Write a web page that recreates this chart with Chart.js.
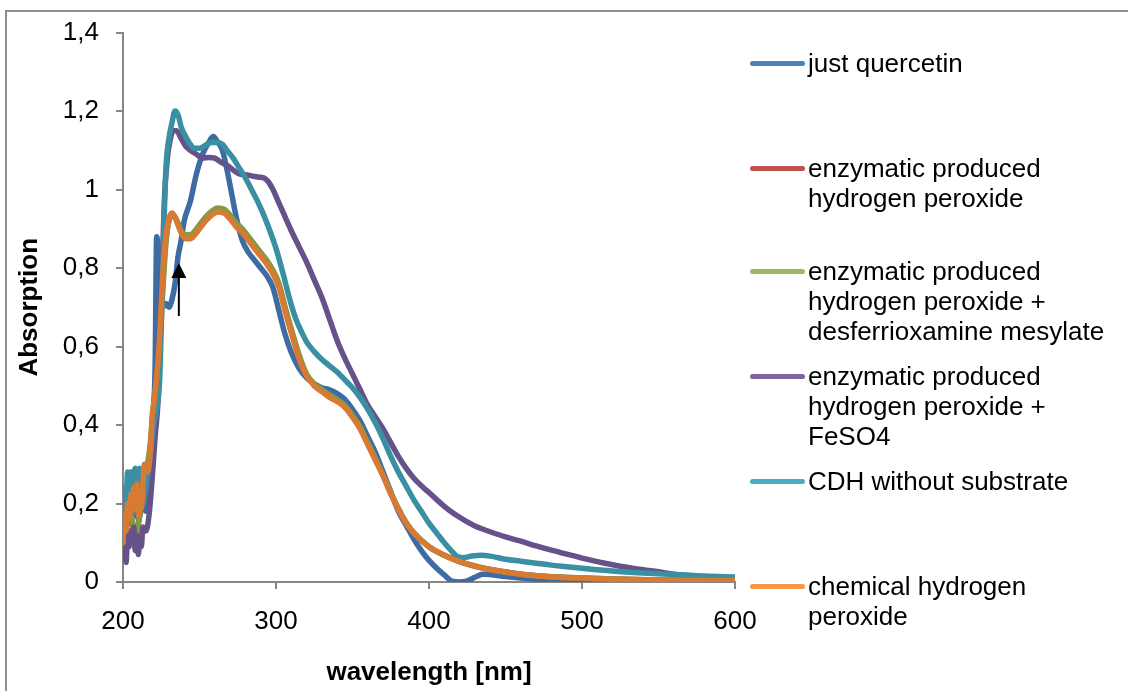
<!DOCTYPE html>
<html>
<head>
<meta charset="utf-8">
<script src="https://cdn.jsdelivr.net/npm/chart.js@4.4.1/dist/chart.umd.min.js"></script>
<style>
  body { margin: 0; background: #fff; font-family: "Liberation Sans", Arial, sans-serif; }
  #wrap { position: relative; width: 1128px; height: 691px; overflow: hidden; }
  #frame { position: absolute; left: 5px; top: 10px; width: 1300px; height: 900px; border: 2px solid #8f8f8f; }
  canvas { position: absolute; left: 0; top: 0; }
  .entry { position: absolute; left: 750px; font-size: 26px; line-height: 30px; color: #000; }
  .entry .swatch { position: absolute; left: 0; top: 13px; width: 55px; height: 5px; border-radius: 3px; }
  .entry .text { margin-left: 58px; white-space: nowrap; }
</style>
</head>
<body>
<div id="wrap">
  <div id="frame"></div>
  <canvas id="spectraChart" width="1128" height="691"></canvas>
  <div id="legend"></div>
</div>
<script>
// absorption spectra (wavelength in nm, absorption)
const quercetinNm = [200,201,202,203,205,206,207,208,210,211,213,215,217,219,221,222,223,224,226,228,230,232,234,236,238,240,244,248,252,256,259,262,265,268,271,274,278,282,286,290,294,298,302,306,310,315,320,325,330,335,340,345,350,355,360,365,370,375,380,385,390,395,400,405,410,415,420,425,430,435,440,450,460,470,480,490,500,550,600];
const quercetinAbs = [0.12,0.18,0.1,0.2,0.15,0.22,0.17,0.21,0.16,0.23,0.2,0.18,0.25,0.4,0.55,0.88,0.85,0.74,0.7,0.71,0.7,0.72,0.76,0.83,0.87,0.92,0.97,1.04,1.09,1.12,1.135,1.12,1.1,1.05,0.99,0.93,0.87,0.84,0.82,0.8,0.78,0.75,0.69,0.63,0.585,0.545,0.52,0.505,0.495,0.49,0.48,0.465,0.44,0.41,0.37,0.33,0.28,0.23,0.18,0.145,0.11,0.08,0.055,0.035,0.018,0.002,0,0.003,0.012,0.02,0.019,0.014,0.01,0.007,0.004,0.002,0.001,0,0];

const enzymNm = [200,202,204,206,208,210,212,214,216,218,220,222,224,226,228,230,232,234,236,238,241,244,247,250,254,258,262,266,270,274,278,282,286,290,294,298,302,306,310,315,320,325,330,335,340,345,350,355,360,365,370,375,380,385,390,400,410,420,440,460,500,550,600];
const enzymAbs = [0.11,0.15,0.17,0.15,0.12,0.15,0.19,0.27,0.29,0.35,0.45,0.52,0.61,0.76,0.87,0.92,0.935,0.928,0.912,0.892,0.88,0.88,0.89,0.905,0.925,0.94,0.948,0.945,0.93,0.91,0.895,0.875,0.855,0.835,0.815,0.79,0.755,0.695,0.64,0.575,0.527,0.502,0.487,0.473,0.462,0.447,0.422,0.392,0.352,0.312,0.271,0.226,0.186,0.151,0.125,0.09,0.068,0.052,0.032,0.02,0.01,0.005,0.004];

const desferriNm = [200,202,204,206,208,209,210,212,214,216,218,220,222,224,226,228,230,232,234,236,238,241,244,247,250,254,258,262,266,270,274,278,282,286,290,294,298,302,306,310,315,320,325,330,335,340,345,350,355,360,365,370,375,380,385,390,400,410,420,440,460,500,550,600];
const desferriAbs = [0.12,0.15,0.18,0.16,0.1,0.08,0.14,0.2,0.27,0.3,0.36,0.45,0.52,0.6,0.74,0.86,0.92,0.935,0.93,0.915,0.895,0.885,0.885,0.895,0.91,0.93,0.945,0.953,0.95,0.935,0.915,0.9,0.88,0.86,0.84,0.82,0.795,0.76,0.7,0.645,0.58,0.53,0.505,0.49,0.477,0.465,0.45,0.425,0.395,0.355,0.315,0.272,0.228,0.187,0.152,0.126,0.09,0.068,0.052,0.032,0.02,0.01,0.005,0.004];

const feso4Nm = [200,201,202,203,204,205,206,207,208,209,210,211,212,213,215,217,219,221,223,225,227,229,231,233,235,238,241,244,248,252,256,260,264,268,272,276,280,284,288,292,295,298,302,306,310,315,320,325,330,335,340,345,350,355,360,365,370,375,380,385,390,395,400,405,410,415,420,425,430,435,440,450,460,470,480,490,500,510,520,530,540,550,560,570,580,590,600];
const feso4Abs = [0.06,0.1,0.05,0.12,0.09,0.13,0.1,0.14,0.08,0.12,0.07,0.11,0.09,0.14,0.13,0.17,0.26,0.37,0.47,0.72,0.97,1.08,1.13,1.15,1.15,1.13,1.11,1.1,1.09,1.08,1.082,1.08,1.07,1.062,1.05,1.04,1.038,1.035,1.032,1.03,1.02,1.0,0.965,0.93,0.895,0.855,0.815,0.77,0.725,0.67,0.615,0.57,0.53,0.49,0.45,0.42,0.39,0.355,0.32,0.29,0.265,0.245,0.228,0.21,0.193,0.178,0.165,0.153,0.143,0.135,0.128,0.115,0.104,0.092,0.081,0.071,0.061,0.052,0.044,0.037,0.031,0.026,0.02,0.016,0.013,0.012,0.011];

const cdhNm = [200,201,202,203,204,205,206,207,208,209,210,211,212,213,214,216,218,220,222,224,226,228,230,232,234,236,238,241,244,247,250,254,258,262,265,268,272,276,280,284,288,292,296,300,305,309,313,317,320,325,330,335,340,345,350,355,360,365,370,375,380,385,390,395,400,405,410,415,418,422,428,434,440,450,460,470,480,490,500,520,540,560,580,600];
const cdhAbs = [0.17,0.24,0.2,0.28,0.26,0.28,0.23,0.27,0.29,0.25,0.28,0.29,0.24,0.2,0.22,0.27,0.33,0.4,0.44,0.52,0.8,1.05,1.13,1.17,1.2,1.19,1.16,1.135,1.115,1.105,1.105,1.113,1.12,1.12,1.115,1.1,1.08,1.055,1.03,1.0,0.97,0.935,0.895,0.85,0.78,0.72,0.67,0.635,0.612,0.587,0.567,0.551,0.535,0.515,0.495,0.47,0.44,0.405,0.365,0.32,0.28,0.245,0.21,0.18,0.15,0.125,0.1,0.078,0.066,0.062,0.066,0.068,0.066,0.058,0.053,0.048,0.043,0.039,0.035,0.028,0.023,0.019,0.015,0.013];

const chemNm = [200,201,202,203,204,205,206,207,208,209,210,211,212,214,216,218,219,220,222,224,226,228,230,232,234,236,238,241,244,247,250,254,258,262,266,270,274,278,282,286,290,294,298,302,306,310,315,320,325,330,335,340,345,350,355,360,365,370,375,380,385,390,395,400,410,420,430,440,450,460,480,500,520,550,580,600];
const chemAbs = [0.1,0.17,0.13,0.2,0.16,0.22,0.18,0.24,0.2,0.25,0.17,0.22,0.19,0.3,0.28,0.34,0.42,0.45,0.52,0.63,0.78,0.88,0.925,0.94,0.93,0.91,0.89,0.875,0.875,0.885,0.9,0.92,0.935,0.943,0.94,0.925,0.905,0.89,0.87,0.85,0.83,0.81,0.785,0.75,0.69,0.635,0.57,0.525,0.5,0.485,0.47,0.46,0.445,0.42,0.39,0.35,0.31,0.27,0.225,0.185,0.15,0.125,0.105,0.09,0.068,0.052,0.04,0.032,0.026,0.02,0.013,0.01,0.007,0.005,0.004,0.004];

const seriesLabels = [
  ['just quercetin'],
  ['enzymatic produced', 'hydrogen peroxide'],
  ['enzymatic produced', 'hydrogen peroxide +', 'desferrioxamine mesylate'],
  ['enzymatic produced', 'hydrogen peroxide +', 'FeSO4'],
  ['CDH without substrate'],
  ['chemical hydrogen', 'peroxide']
];
const lineColors = ['#3d6ba3', '#b84a47', '#7f9c45', '#66528a', '#3a8fa3', '#d77a33'];
const legendColors = ['#4f81bd', '#c0504d', '#9bbb59', '#8064a2', '#4bacc6', '#f79646'];
const legendY = [63, 168, 271, 376, 481, 586];

const xTicks = [200, 300, 400, 500, 600];
const yTicks = [0, 0.2, 0.4, 0.6, 0.8, 1, 1.2, 1.4];

// arrow marking the shoulder
const arrowNm = 236.5;
const arrowTail = 0.678;
const arrowTip = 0.813;

const FONT = 'Liberation Sans, Arial, sans-serif';

function toPoints(nm, abs) {
    return nm.map((w, i) => ({ x: w, y: abs[i] }));
}

const allSeries = [
    toPoints(quercetinNm, quercetinAbs),
    toPoints(enzymNm, enzymAbs),
    toPoints(desferriNm, desferriAbs),
    toPoints(feso4Nm, feso4Abs),
    toPoints(cdhNm, cdhAbs),
    toPoints(chemNm, chemAbs)
];

const arrowPlugin = {
    id: 'arrow',
    afterDatasetsDraw(chart) {
        const { ctx, scales: { x, y } } = chart;
        const px = x.getPixelForValue(arrowNm);
        const tip = y.getPixelForValue(arrowTip);
        const tail = y.getPixelForValue(arrowTail);
        ctx.save();
        ctx.strokeStyle = '#000';
        ctx.fillStyle = '#000';
        ctx.lineWidth = 2;
        ctx.beginPath();
        ctx.moveTo(px, tail);
        ctx.lineTo(px, tip + 12);
        ctx.stroke();
        ctx.beginPath();
        ctx.moveTo(px, tip);
        ctx.lineTo(px - 7.5, tip + 15);
        ctx.lineTo(px + 7.5, tip + 15);
        ctx.closePath();
        ctx.fill();
        ctx.restore();
    }
};

const ctx = document.getElementById('spectraChart').getContext('2d');

new Chart(ctx, {
    type: 'line',
    data: {
        datasets: allSeries.map((pts, i) => ({
            label: seriesLabels[i].join(' '),
            data: pts,
            borderColor: lineColors[i],
            backgroundColor: lineColors[i],
            borderWidth: 5.5,
            pointRadius: 0,
            cubicInterpolationMode: 'monotone',
            borderCapStyle: 'round',
            borderJoinStyle: 'round',
            order: allSeries.length - 1 - i
        }))
    },
    options: {
        responsive: false,
        devicePixelRatio: 1,
        animation: false,
        layout: { padding: { top: 31, right: 393, bottom: 0, left: 0 } },
        plugins: {
            legend: { display: false },
            tooltip: { enabled: false }
        },
        scales: {
            x: {
                type: 'linear',
                min: 200,
                max: 600,
                afterFit: (scale) => { scale.height = 109; },
                afterBuildTicks: (scale) => { scale.ticks = xTicks.map(v => ({ value: v })); },
                ticks: {
                    color: '#000',
                    padding: 17,
                    font: { family: FONT, size: 26 },
                    maxRotation: 0,
                    callback: (v) => String(v)
                },
                grid: { drawOnChartArea: false, drawTicks: true, tickLength: 7, color: '#868686', lineWidth: 2 },
                border: { color: '#868686', width: 2 },
                title: {
                    display: true,
                    text: 'wavelength [nm]',
                    color: '#000',
                    font: { family: FONT, size: 26, weight: 'bold' },
                    padding: { top: 0, bottom: 3 }
                }
            },
            y: {
                min: 0,
                max: 1.4,
                afterFit: (scale) => { scale.width = 123; },
                afterBuildTicks: (scale) => { scale.ticks = yTicks.map(v => ({ value: v })); },
                ticks: {
                    color: '#000',
                    padding: 17,
                    font: { family: FONT, size: 26 },
                    callback: (v) => String(Math.round(v * 10) / 10).replace('.', ',')
                },
                grid: { drawOnChartArea: false, drawTicks: true, tickLength: 7, color: '#868686', lineWidth: 2 },
                border: { color: '#868686', width: 2 },
                title: {
                    display: true,
                    text: 'Absorption',
                    color: '#000',
                    font: { family: FONT, size: 26, weight: 'bold' },
                    padding: { top: 14, bottom: 0 }
                }
            }
        }
    },
    plugins: [arrowPlugin]
});

// legend on the right, same layout as the original
const legend = document.getElementById('legend');
seriesLabels.forEach((lines, i) => {
    const entry = document.createElement('div');
    entry.className = 'entry';
    entry.style.top = (legendY[i] - 15) + 'px';
    const sw = document.createElement('span');
    sw.className = 'swatch';
    sw.style.background = legendColors[i];
    const txt = document.createElement('div');
    txt.className = 'text';
    txt.innerHTML = lines.join('<br>');
    entry.appendChild(sw);
    entry.appendChild(txt);
    legend.appendChild(entry);
});
</script>
</body>
</html>
